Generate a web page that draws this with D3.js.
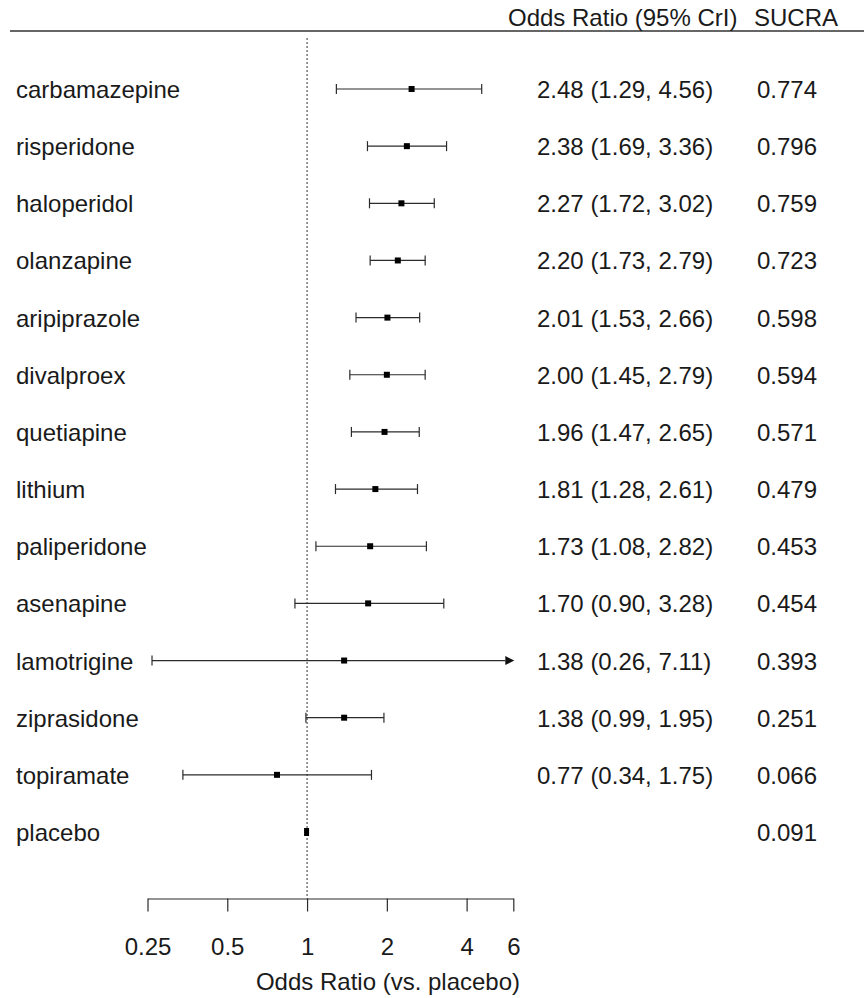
<!DOCTYPE html>
<html>
<head>
<meta charset="utf-8">
<script src="https://cdn.jsdelivr.net/npm/d3@7"></script>
<style>
  html, body { margin: 0; padding: 0; background: #fff; }
  svg { display: block; font-family: "Liberation Sans", Arial, Helvetica, sans-serif; }
</style>
</head>
<body>
<svg id="chart" width="864" height="998"></svg>
<script>
// Treatments, top to bottom
const treatments = ["carbamazepine", "risperidone", "haloperidol", "olanzapine", "aripiprazole",
  "divalproex", "quetiapine", "lithium", "paliperidone", "asenapine", "lamotrigine",
  "ziprasidone", "topiramate", "placebo"];
// Odds ratio vs placebo with 95% credible interval
const oddsRatio = [2.48, 2.38, 2.27, 2.20, 2.01, 2.00, 1.96, 1.81, 1.73, 1.70, 1.38, 1.38, 0.77, 1.00];
const lowerCrI  = [1.29, 1.69, 1.72, 1.73, 1.53, 1.45, 1.47, 1.28, 1.08, 0.90, 0.26, 0.99, 0.34, null];
const upperCrI  = [4.56, 3.36, 3.02, 2.79, 2.66, 2.79, 2.65, 2.61, 2.82, 3.28, 7.11, 1.95, 1.75, null];
const sucra     = ["0.774", "0.796", "0.759", "0.723", "0.598", "0.594", "0.571", "0.479",
  "0.453", "0.454", "0.393", "0.251", "0.066", "0.091"];
// Axis ticks
const tickValues = [0.25, 0.5, 1, 2, 4, 6];
const tickLabels = ["0.25", "0.5", "1", "2", "4", "6"];

const rows = treatments.map((name, i) => ({
  name, or: oddsRatio[i], lo: lowerCrI[i], hi: upperCrI[i], sucra: sucra[i]
}));

const svg = d3.select("#chart");
const ink = "#1a1a1a";
const lineInk = "#2b2b2b";
const fontSize = 24;

const x = d3.scaleLog().domain([0.25, 6]).range([147.5, 513.3]);
const y = d3.scalePoint().domain(treatments).range([89, 832]);
const axisY = 898.5;

svg.append("rect").attr("width", 864).attr("height", 998).attr("fill", "#fff");

// Header
svg.append("line")
  .attr("x1", 10).attr("x2", 864).attr("y1", 31).attr("y2", 31)
  .attr("stroke", "#333").attr("stroke-width", 1.5);
svg.append("text").attr("x", 508).attr("y", 26)
  .attr("font-size", fontSize).attr("fill", ink).text("Odds Ratio (95% CrI)");
svg.append("text").attr("x", 754).attr("y", 26)
  .attr("font-size", fontSize).attr("fill", ink).text("SUCRA");

// Reference line at OR = 1
svg.append("line")
  .attr("x1", x(1)).attr("x2", x(1)).attr("y1", 38).attr("y2", axisY)
  .attr("stroke", "#333").attr("stroke-width", 1)
  .attr("stroke-dasharray", "2,2");

// Axis
const axis = d3.axisBottom(x)
  .tickValues(tickValues)
  .tickFormat((d, i) => tickLabels[i])
  .tickSize(13)
  .tickSizeOuter(0);
const gAxis = svg.append("g").attr("transform", `translate(0,${axisY})`).call(axis);
gAxis.select(".domain").attr("stroke", lineInk).attr("stroke-width", 1.2);
gAxis.selectAll(".tick line").attr("stroke", lineInk).attr("stroke-width", 1.2);
gAxis.selectAll(".tick text")
  .attr("y", 56.5).attr("dy", null)
  .attr("font-size", fontSize)
  .attr("font-family", "Liberation Sans, Arial, sans-serif")
  .attr("fill", ink);

svg.append("text").attr("x", 388).attr("y", 990)
  .attr("text-anchor", "middle").attr("font-size", fontSize).attr("fill", ink)
  .text("Odds Ratio (vs. placebo)");

// Rows
const g = svg.append("g").selectAll("g").data(rows).join("g")
  .attr("transform", d => `translate(0,${y(d.name)})`);

g.append("text").attr("x", 16).attr("y", 9)
  .attr("font-size", fontSize).attr("fill", ink).text(d => d.name);

g.filter(d => d.lo !== null).append("text").attr("x", 537).attr("y", 9)
  .attr("font-size", fontSize).attr("fill", ink)
  .text(d => `${d.or.toFixed(2)} (${d.lo.toFixed(2)}, ${d.hi.toFixed(2)})`);

g.append("text").attr("x", 757).attr("y", 9)
  .attr("font-size", fontSize).attr("fill", ink).text(d => d.sucra);

const [xMin, xMax] = x.domain();
const ci = g.filter(d => d.lo !== null);
const capH = 5, arrowLen = 9, arrowHalf = 4.5;

ci.append("line")
  .attr("x1", d => x(Math.max(d.lo, xMin)))
  .attr("x2", d => d.hi > xMax ? x(xMax) - arrowLen + 1 : x(d.hi))
  .attr("y1", 0).attr("y2", 0)
  .attr("stroke", lineInk).attr("stroke-width", 1.2);

// Caps where the interval ends inside the axis range
ci.filter(d => d.lo >= xMin).append("line")
  .attr("x1", d => x(d.lo)).attr("x2", d => x(d.lo))
  .attr("y1", -capH).attr("y2", capH)
  .attr("stroke", lineInk).attr("stroke-width", 1.2);
ci.filter(d => d.hi <= xMax).append("line")
  .attr("x1", d => x(d.hi)).attr("x2", d => x(d.hi))
  .attr("y1", -capH).attr("y2", capH)
  .attr("stroke", lineInk).attr("stroke-width", 1.2);

// Arrowheads where the interval runs past the axis range
ci.filter(d => d.hi > xMax).append("path")
  .attr("d", () => {
    const tip = x(xMax) + 1;
    return `M${tip},0 L${tip - arrowLen},${-arrowHalf} L${tip - arrowLen},${arrowHalf} Z`;
  })
  .attr("fill", "#111");

// Point estimates
g.append("rect")
  .attr("x", d => x(d.or) - 3)
  .attr("y", d => d.lo === null ? -4 : -3)
  .attr("width", d => d.lo === null ? 5 : 6)
  .attr("height", d => d.lo === null ? 8 : 6)
  .attr("fill", "#000");
</script>
</body>
</html>
